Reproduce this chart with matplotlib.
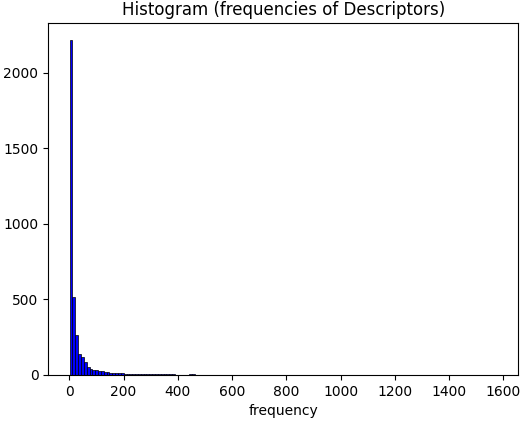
import matplotlib
matplotlib.use('Agg')
import matplotlib.pyplot as plt
import numpy as np

# histogram range and bin counts
LO = 1
HI = 1576
N_BINS = 150

head = [2215, 512, 265, 137, 120, 88, 51, 40, 35, 29, 25, 22,
        18, 16, 14, 12, 10, 11, 9, 8, 7, 6, 6, 5, 5,
        4, 4, 3, 5, 6, 4, 5, 6, 5, 3, 4, 5, 2, 2, 1, 2,
        1, 3, 5, 1, 0, 1, 1, 0, 1, 0]
tail = [0, 0, 1, 0, 0, 0, 0, 1, 0, 0, 0, 0, 0, 0, 0, 0, 0, 1, 0, 0,
        0, 0, 0, 0, 0, 0, 0, 0, 0, 0, 0, 0, 0, 0, 0, 0, 0, 0, 0, 0,
        0, 0, 0, 0, 0, 0, 0, 0, 0, 0, 0, 0, 0, 0, 0, 0, 0, 0, 0, 0,
        0, 0, 0, 0, 0, 0, 0, 0, 0, 0, 0, 0, 0, 0, 0, 0, 0, 0, 0, 0,
        0, 0, 0, 0, 0, 0, 0, 0, 0, 0, 0, 0, 0, 0, 0, 0, 0, 0, 1]
counts = head + tail

edges = np.linspace(LO, HI, N_BINS + 1)
centers = (edges[:-1] + edges[1:]) / 2

fig, ax = plt.subplots(figsize=(5.24, 4.24), dpi=100)
plt.subplots_adjust(left=0.092, right=0.989, top=0.945, bottom=0.116)

ax.hist(centers, bins=edges, weights=counts, color='blue', edgecolor='black', linewidth=0.5)
ax.set_title('Histogram (frequencies of Descriptors)')
ax.set_xlabel('frequency')

fig.savefig('out.png')
